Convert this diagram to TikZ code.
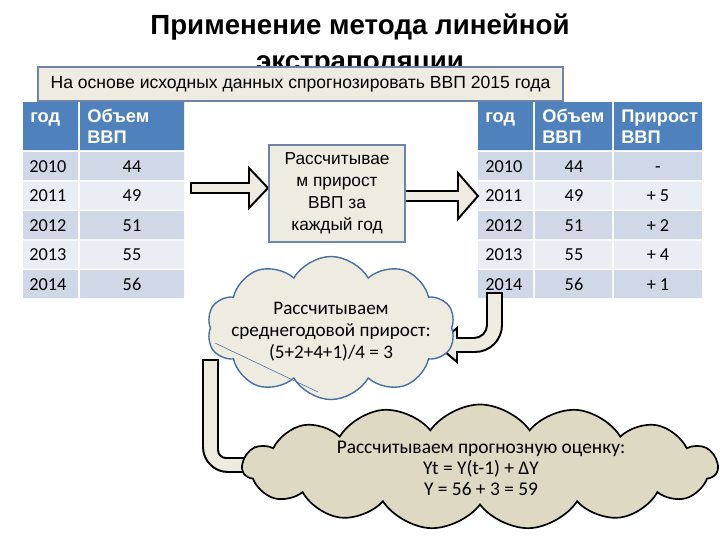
\documentclass[tikz,border=0pt]{standalone}
\usepackage{fontspec}
\setmainfont{Carlito}
\newfontfamily\arialfont{Liberation Sans}
\usepackage{tikz}
\usetikzlibrary{shapes.symbols}

\definecolor{hdrblue}{HTML}{4F81BD}
\definecolor{rowdark}{HTML}{D0D8E8}
\definecolor{rowlight}{HTML}{E9EDF4}
\definecolor{paper}{HTML}{EEECE1}
\definecolor{khaki}{HTML}{DDD9C3}
\definecolor{slate}{HTML}{6F84A6}
\definecolor{cloudblue}{HTML}{4A6EA0}

\tikzset{
  cell/.style={inner sep=0, anchor=base west, font=\fontsize{13}{15}\selectfont},
  numcell/.style={cell, anchor=base},
  hdr/.style={inner sep=0, anchor=base west, align=left, text=white,
    font=\arialfont\bfseries\fontsize{13}{15.5}\selectfont},
  blockarrow/.style={draw=black, line width=1.4pt, fill=paper, line join=miter},
  note/.style={draw=slate, line width=1.2pt, fill=paper, inner sep=0},
  puffy/.style={cloud, inner sep=0},
  cloudtext/.style={inner sep=0, align=center},
}

\begin{document}
\begin{tikzpicture}[x=0.025cm, y=-0.025cm]
\useasboundingbox (0,0) rectangle (720,540);

\node[inner sep=0, anchor=north, align=center,
  font=\arialfont\bfseries\fontsize{19.7}{25}\selectfont] (title) at (360,14)
  {Применение метода линейной\\экстраполяции};

\node[note, minimum width=13.125cm, minimum height=0.85cm,
  font=\arialfont\fontsize{12.5}{14}\selectfont] (task) at (300.5,84)
  {На основе исходных данных спрогнозировать ВВП 2015 года};

% headers
\fill[hdrblue] (23,102) rectangle (78,150) (80,102) rectangle (184,150)
  (478,102) rectangle (533,150) (535,102) rectangle (612,150) (614,102) rectangle (702,150);
\node[hdr] (lhyear) at (30,122) {год};
\node[hdr] (lhvol) at (87,122) {Объем};
\node[hdr] (lhvol2) at (87,143) {ВВП};
\node[hdr] (rhyear) at (485,122) {год};
\node[hdr] (rhvol) at (542,122) {Объем};
\node[hdr] (rhvol2) at (542,143) {ВВП};
\node[hdr] (rhinc) at (621,122) {Прирост};
\node[hdr] (rhinc2) at (621,143) {ВВП};

\foreach[count=\k] \yr/\vol/\inc in {2010/44/-, 2011/49/+ 5, 2012/51/+ 2, 2013/55/+ 4, 2014/56/+ 1} {
  \pgfmathsetmacro\rowtop{152+29.5*(\k-1)}
  \ifodd\k \colorlet{rowfill}{rowdark}\else \colorlet{rowfill}{rowlight}\fi
  \fill[rowfill] (23,\rowtop) rectangle (78,\rowtop+28) (80,\rowtop) rectangle (184,\rowtop+28)
    (478,\rowtop) rectangle (533,\rowtop+28) (535,\rowtop) rectangle (612,\rowtop+28)
    (614,\rowtop) rectangle (702,\rowtop+28);
  \node[cell] (ly\k) at (29,\rowtop+20) {\yr};
  \node[numcell] (lv\k) at (132,\rowtop+20) {\vol};
  \node[cell] (ry\k) at (485,\rowtop+20) {\yr};
  \node[numcell] (rv\k) at (574,\rowtop+20) {\vol};
  \node[numcell] (ri\k) at (658,\rowtop+20) {\inc};
}

\draw[blockarrow] (191,183) -- (249,183) -- (249,168) -- (268,188) -- (249,208) -- (249,193) -- (191,193) -- cycle;
\draw[blockarrow] (400,191) -- (458,191) -- (458,173) -- (478,196) -- (458,219) -- (458,201) -- (400,201) -- cycle;

\node[note, minimum width=3.4cm, minimum height=2.425cm, align=center,
  font=\arialfont\fontsize{12.3}{15.6}\selectfont] (step1) at (337,193.5)
  {Рассчитывае\\м прирост\\ВВП за\\каждый год};

\draw[blockarrow] (487,293) -- (487,325) arc[start angle=0, end angle=90, radius=13]
  -- (457,338) -- (457,328) -- (437,345) -- (457,362) -- (457,352) -- (475,352)
  arc[start angle=90, end angle=0, radius=27] -- (502,293) -- cycle;

\node[puffy, cloud puffs=10, cloud puff arc=120, aspect=1.73, draw=cloudblue, line width=1pt,
  fill=paper, minimum width=6.2cm, minimum height=3.575cm] (avg) at (331,328) {};
\node[cloudtext, font=\fontsize{13.6}{15.6}\selectfont] (avgtext) at (331,332)
  {Рассчитываем\\среднегодовой прирост:\\(5+2+4+1)/4 = 3};
\draw[cloudblue, line width=0.4pt] (215,343) -- (318,392);

\draw[blockarrow] (203,360) -- (203,447) arc[start angle=180, end angle=90, radius=25]
  -- (255,472) -- (255,482) -- (275,465) -- (255,448) -- (255,458) -- (226,458)
  arc[start angle=90, end angle=180, radius=8] -- (218,360) -- cycle;

\node[puffy, cloud puffs=15, cloud puff arc=110, aspect=3.8, draw=black, line width=1.2pt,
  fill=khaki, minimum width=11.875cm, minimum height=3.125cm] (forecast) at (480,467) {};
\node[cloudtext, font=\fontsize{13.8}{15}\selectfont] (forecasttext) at (481,468)
  {Рассчитываем прогнозную оценку:\\Yt = Y(t-1) + ΔY\\Y = 56 + 3 = 59};
\end{tikzpicture}
\end{document}
